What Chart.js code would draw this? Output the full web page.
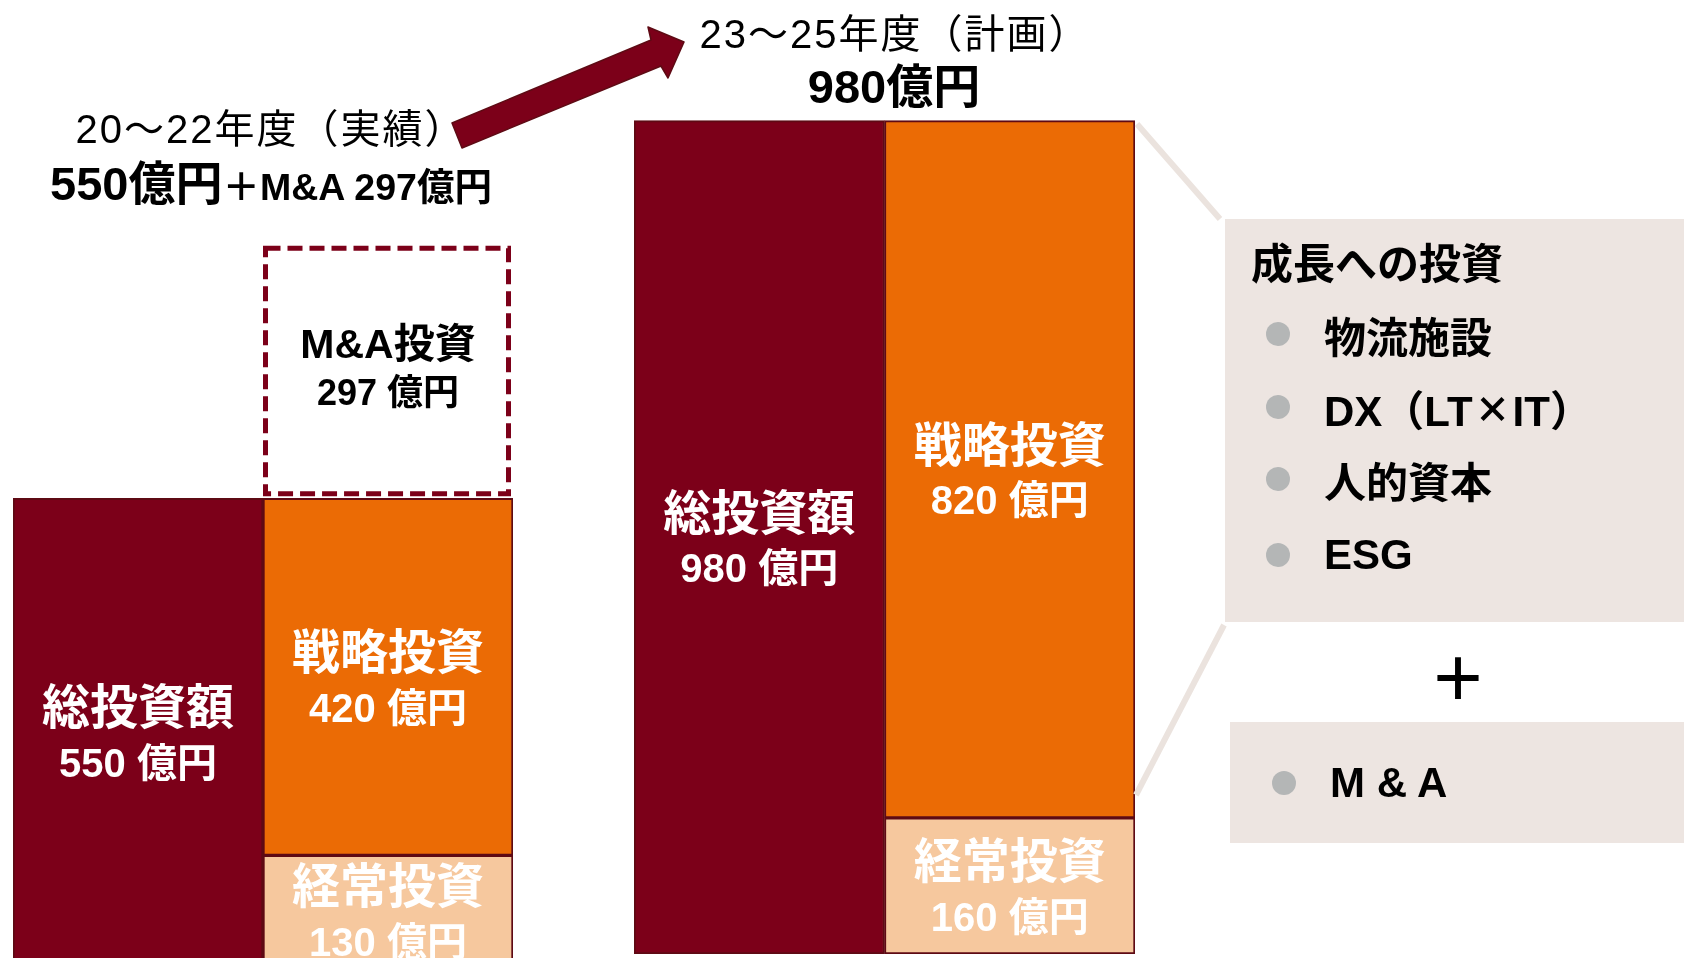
<!DOCTYPE html>
<html lang="ja">
<head>
<meta charset="utf-8">
<title>設備投資計画</title>
<script src="https://cdn.jsdelivr.net/npm/chart.js@4/dist/chart.umd.min.js"></script>
<style>
  html, body { margin: 0; padding: 0; background: #fff; overflow: hidden; }
  #stage {
    position: relative; width: 1684px; height: 958px; overflow: hidden;
    font-family: "Liberation Sans", Arial, "Noto Sans CJK JP", sans-serif; color: #000;
  }
  #stage canvas, #deco, .abs { position: absolute; }
  .head { text-align: center; line-height: 1; white-space: nowrap; }
  .h-year { font-size: 40px; letter-spacing: 2px; }
  .h-sum { font-size: 47px; font-weight: bold; }
  .h-sum span { font-size: 37.5px; }
  .panel { background: #ede5e1; }
  .panel-title { font-size: 42px; font-weight: bold; line-height: 1; }
  .item { display: flex; align-items: center; height: 50px; font-size: 42px; font-weight: bold; white-space: nowrap; }
  .item i { display: inline-block; width: 24px; height: 24px; border-radius: 50%; background: #b4b6b6; margin-right: 34px; }
  .item b { font-family: "Noto Sans CJK JP", sans-serif; font-size: 36px; margin: 0 2px; }
  .plus { font-size: 58px; font-weight: bold; line-height: 1; font-family: "Noto Sans CJK JP", sans-serif; }
</style>
</head>
<body>
<div id="stage">
  <canvas id="chartPast" width="500" height="966" style="left:13px; top:0;"></canvas>
  <canvas id="chartPlan" width="501" height="966" style="left:634px; top:-12px;"></canvas>

  <svg id="deco" width="1684" height="958" style="left:0; top:0;">
    <!-- 実績→計画の矢印 -->
    <polygon points="452,123 651,40 648,27 684,42 668,78 661,66 462,148"
             fill="#7c0019" stroke="#5e0a14" stroke-width="1.5" stroke-linejoin="round"/>
    <!-- 戦略投資から説明枠への引き出し線 -->
    <line x1="1137" y1="124" x2="1220" y2="219" stroke="#ebe3de" stroke-width="6"/>
    <line x1="1136" y1="795" x2="1224" y2="625" stroke="#ebe3de" stroke-width="6"/>
  </svg>

  <div id="headPast1" class="abs head h-year" style="left:8px; width:526px; top:109px;"></div>
  <div id="headPast2" class="abs head h-sum" style="left:50px; top:160px;"></div>
  <div id="headPlan1" class="abs head h-year" style="left:643px; width:504px; top:14px;"></div>
  <div id="headPlan2" class="abs head h-sum" style="left:634px; width:520px; top:63px;"></div>

  <div class="abs panel" style="left:1225px; top:219px; width:459px; height:403px;"></div>
  <div class="abs panel-title" style="left:1251px; top:244px;">成長への投資</div>
  <div class="abs item" style="left:1266px; top:309px;"><i></i>物流施設</div>
  <div class="abs item" style="left:1266px; top:382px;"><i></i>DX（LT<b>×</b>IT）</div>
  <div class="abs item" style="left:1266px; top:454px;"><i></i>人的資本</div>
  <div class="abs item" style="left:1266px; top:530px;"><i></i>ESG</div>

  <div class="abs plus" style="left:1429px; top:646px;">＋</div>

  <div class="abs panel" style="left:1230px; top:722px; width:454px; height:121px;"></div>
  <div class="abs item" style="left:1272px; top:758px;"><i></i>M &amp; A</div>
</div>

<script>
// 期間ごとの投資額（億円）
const periods = ['20〜22年度（実績）', '23〜25年度（計画）'];
const totalInvest = [550, 980];
const strategicInvest = [420, 820];
const regularInvest = [130, 160];
const maInvest = [297, null];

// 各期間の棒：左が総額、右が内訳の積み上げ
const barLabels = ['総投資額', '内訳'];

const FONT = '"Liberation Sans", Arial, "Noto Sans CJK JP", sans-serif';

// 見出し
document.getElementById('headPast1').textContent = periods[0];
document.getElementById('headPast2').innerHTML =
  totalInvest[0] + '億円<span>＋M&amp;A ' + maInvest[0] + '億円</span>';
document.getElementById('headPlan1').textContent = periods[1];
document.getElementById('headPlan2').textContent = totalInvest[1] + '億円';

// 棒の中に項目名と金額を書く
const segmentLabels = {
  id: 'segmentLabels',
  afterDatasetsDraw(chart) {
    const ctx = chart.ctx;
    chart.data.datasets.forEach((ds, di) => {
      const meta = chart.getDatasetMeta(di);
      meta.data.forEach((bar, i) => {
        const v = ds.data[i];
        if (v == null || v === 0) return;
        const { x, y, base } = bar.getProps(['x', 'y', 'base'], true);
        const cy = (y + base) / 2;
        ctx.save();
        ctx.fillStyle = ds.textColor || '#fff';
        ctx.textAlign = 'center';
        ctx.textBaseline = 'middle';
        ctx.font = `bold ${ds.titleSize || 48}px ${FONT}`;
        ctx.fillText(ds.label, x, cy + (ds.titleOffset || -21));
        ctx.font = `bold ${ds.valueSize || 40}px ${FONT}`;
        ctx.fillText(v + ' 億円', x, cy + (ds.valueOffset || 34));
        ctx.restore();
      });
    });
  }
};

// M&A は破線の枠だけで描く
const dashedFrame = {
  id: 'dashedFrame',
  afterDatasetsDraw(chart) {
    const ctx = chart.ctx;
    chart.data.datasets.forEach((ds, di) => {
      if (!ds.dashed) return;
      chart.getDatasetMeta(di).data.forEach((bar, i) => {
        if (ds.data[i] == null) return;
        const { x, y, base, width } = bar.getProps(['x', 'y', 'base', 'width'], true);
        ctx.save();
        ctx.strokeStyle = '#7c0019';
        ctx.lineWidth = 5;
        ctx.setLineDash([15, 7]);
        ctx.strokeRect(x - width / 2 + 2.5, y + 2.5, width - 7, base - y - 7);
        ctx.restore();
      });
    });
  }
};

function buildChart(id, i) {
  return new Chart(document.getElementById(id), {
    type: 'bar',
    data: {
      labels: barLabels,
      datasets: [
        {
          label: '総投資額',
          data: [totalInvest[i], null],
          backgroundColor: '#7c0019'
        },
        {
          label: '経常投資',
          data: [null, regularInvest[i]],
          backgroundColor: '#f6c89e'
        },
        {
          label: '戦略投資',
          data: [null, strategicInvest[i]],
          backgroundColor: '#eb6b05'
        },
        {
          label: 'M&A投資',
          data: [null, maInvest[i]],
          backgroundColor: '#fff',
          borderWidth: 0,
          dashed: true,
          textColor: '#000',
          titleSize: 41,
          valueSize: 36,
          titleOffset: -25,
          valueOffset: 23
        }
      ]
    },
    options: {
      responsive: false,
      animation: false,
      layout: { padding: 0 },
      datasets: {
        bar: {
          barPercentage: 1,
          categoryPercentage: 1,
          borderColor: '#5e0a14',
          borderWidth: 2,
          borderSkipped: false
        }
      },
      plugins: {
        legend: { display: false },
        title: { display: false },
        tooltip: { enabled: false }
      },
      scales: {
        x: { stacked: true, display: false },
        y: { stacked: true, display: false, min: 0, max: 1136 }
      }
    },
    plugins: [dashedFrame, segmentLabels]
  });
}

buildChart('chartPast', 0);
buildChart('chartPlan', 1);
</script>
</body>
</html>
